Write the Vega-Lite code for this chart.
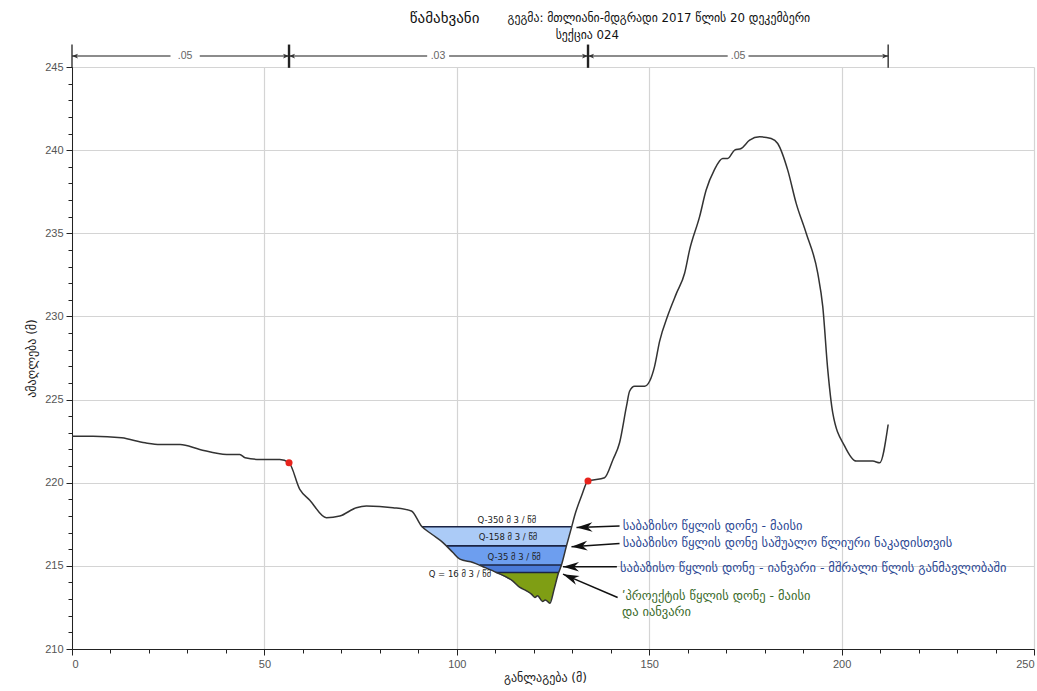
{
  "$schema": "https://vega.github.io/schema/vega-lite/v6.json",
  "width": 962,
  "height": 582,
  "autosize": "none",
  "padding": {"left": 72, "top": 67, "right": 3, "bottom": 42},
  "background": "white",
  "config": {
    "view": {"stroke": null},
    "font": "DejaVu Sans",
    "axis": {
      "labelFont": "Liberation Sans",
      "labelFontSize": 11,
      "labelColor": "#555555",
      "titleFont": "DejaVu Sans",
      "titleFontSize": 12,
      "titleFontWeight": "normal",
      "titleColor": "#222222",
      "gridColor": "#d4d4d4",
      "gridWidth": 1.2,
      "domainColor": "#222222",
      "tickColor": "#222222"
    }
  },
  "datasets": {
    "ground": [
      {"x": 0, "z": 222.8}, {"x": 5.5, "z": 222.8}, {"x": 12.9, "z": 222.7}, {"x": 19.0, "z": 222.4},
      {"x": 22.9, "z": 222.3}, {"x": 28.1, "z": 222.3}, {"x": 33.2, "z": 222.0}, {"x": 40.2, "z": 221.7},
      {"x": 43.6, "z": 221.7}, {"x": 45.0, "z": 221.5}, {"x": 48.8, "z": 221.4}, {"x": 54.0, "z": 221.4},
      {"x": 56.4, "z": 221.2}, {"x": 59.2, "z": 219.6}, {"x": 61.8, "z": 218.95}, {"x": 66.1, "z": 217.9},
      {"x": 69.6, "z": 218.0}, {"x": 73.9, "z": 218.5}, {"x": 76.5, "z": 218.6}, {"x": 83.4, "z": 218.5},
      {"x": 88.2, "z": 218.3}, {"x": 90.8, "z": 217.4}, {"x": 93.5, "z": 216.9}, {"x": 96.4, "z": 216.4},
      {"x": 99.0, "z": 215.8}, {"x": 100.8, "z": 215.4}, {"x": 104.2, "z": 215.2}, {"x": 106.8, "z": 214.95},
      {"x": 110.3, "z": 214.6}, {"x": 114.5, "z": 214.1}, {"x": 116.4, "z": 213.7}, {"x": 118.1, "z": 213.5},
      {"x": 119.4, "z": 213.3}, {"x": 120.3, "z": 213.1}, {"x": 121.0, "z": 213.2}, {"x": 122.3, "z": 212.85},
      {"x": 123.0, "z": 212.95}, {"x": 124.2, "z": 212.75}, {"x": 125.3, "z": 213.6}, {"x": 126.4, "z": 214.55},
      {"x": 127.2, "z": 215.05}, {"x": 128.5, "z": 216.2}, {"x": 129.8, "z": 217.3}, {"x": 130.6, "z": 218.0},
      {"x": 132.4, "z": 219.2}, {"x": 134.1, "z": 220.1}, {"x": 138.4, "z": 220.3}, {"x": 140.6, "z": 221.4},
      {"x": 142.3, "z": 222.4}, {"x": 144.1, "z": 224.6}, {"x": 144.9, "z": 225.5}, {"x": 146.2, "z": 225.8},
      {"x": 148.8, "z": 225.8}, {"x": 150.1, "z": 226.1}, {"x": 151.4, "z": 227.0}, {"x": 152.7, "z": 228.5},
      {"x": 154.9, "z": 230.1}, {"x": 157.1, "z": 231.4}, {"x": 159.2, "z": 232.6}, {"x": 160.5, "z": 234.0},
      {"x": 163.1, "z": 236.0}, {"x": 164.8, "z": 237.6}, {"x": 166.9, "z": 238.8}, {"x": 169.1, "z": 239.5},
      {"x": 170.4, "z": 239.5}, {"x": 172.2, "z": 240.0}, {"x": 173.9, "z": 240.1}, {"x": 176.1, "z": 240.6},
      {"x": 178.7, "z": 240.8}, {"x": 181.7, "z": 240.7}, {"x": 183.4, "z": 240.4}, {"x": 186.0, "z": 238.8},
      {"x": 188.2, "z": 236.8}, {"x": 190.8, "z": 235.0}, {"x": 193.8, "z": 232.6}, {"x": 195.1, "z": 230.6},
      {"x": 196.4, "z": 226.8}, {"x": 197.7, "z": 224.2}, {"x": 200.8, "z": 222.2}, {"x": 203.8, "z": 221.3},
      {"x": 208.1, "z": 221.3}, {"x": 209.9, "z": 221.2}, {"x": 212.1, "z": 223.5}
    ],
    "water": [
      {"lvl": "a", "x": 90.9, "z": 217.35, "top": 217.35}, {"lvl": "a", "x": 93.5, "z": 216.9, "top": 217.35},
      {"lvl": "a", "x": 96.4, "z": 216.4, "top": 217.35}, {"lvl": "a", "x": 99.0, "z": 215.8, "top": 217.35},
      {"lvl": "a", "x": 100.8, "z": 215.4, "top": 217.35}, {"lvl": "a", "x": 104.2, "z": 215.2, "top": 217.35},
      {"lvl": "a", "x": 106.8, "z": 214.95, "top": 217.35}, {"lvl": "a", "x": 110.3, "z": 214.6, "top": 217.35},
      {"lvl": "a", "x": 114.5, "z": 214.1, "top": 217.35}, {"lvl": "a", "x": 116.4, "z": 213.7, "top": 217.35},
      {"lvl": "a", "x": 118.1, "z": 213.5, "top": 217.35}, {"lvl": "a", "x": 119.4, "z": 213.3, "top": 217.35},
      {"lvl": "a", "x": 120.3, "z": 213.1, "top": 217.35}, {"lvl": "a", "x": 121.0, "z": 213.2, "top": 217.35},
      {"lvl": "a", "x": 122.3, "z": 212.85, "top": 217.35}, {"lvl": "a", "x": 123.0, "z": 212.95, "top": 217.35},
      {"lvl": "a", "x": 124.2, "z": 212.75, "top": 217.35}, {"lvl": "a", "x": 125.3, "z": 213.6, "top": 217.35},
      {"lvl": "a", "x": 126.4, "z": 214.55, "top": 217.35}, {"lvl": "a", "x": 127.2, "z": 215.05, "top": 217.35},
      {"lvl": "a", "x": 128.5, "z": 216.2, "top": 217.35}, {"lvl": "a", "x": 129.75, "z": 217.35, "top": 217.35},

      {"lvl": "b", "x": 97.3, "z": 216.2, "top": 216.2}, {"lvl": "b", "x": 99.0, "z": 215.8, "top": 216.2},
      {"lvl": "b", "x": 100.8, "z": 215.4, "top": 216.2}, {"lvl": "b", "x": 104.2, "z": 215.2, "top": 216.2},
      {"lvl": "b", "x": 106.8, "z": 214.95, "top": 216.2}, {"lvl": "b", "x": 110.3, "z": 214.6, "top": 216.2},
      {"lvl": "b", "x": 114.5, "z": 214.1, "top": 216.2}, {"lvl": "b", "x": 116.4, "z": 213.7, "top": 216.2},
      {"lvl": "b", "x": 118.1, "z": 213.5, "top": 216.2}, {"lvl": "b", "x": 119.4, "z": 213.3, "top": 216.2},
      {"lvl": "b", "x": 120.3, "z": 213.1, "top": 216.2}, {"lvl": "b", "x": 121.0, "z": 213.2, "top": 216.2},
      {"lvl": "b", "x": 122.3, "z": 212.85, "top": 216.2}, {"lvl": "b", "x": 123.0, "z": 212.95, "top": 216.2},
      {"lvl": "b", "x": 124.2, "z": 212.75, "top": 216.2}, {"lvl": "b", "x": 125.3, "z": 213.6, "top": 216.2},
      {"lvl": "b", "x": 126.4, "z": 214.55, "top": 216.2}, {"lvl": "b", "x": 127.2, "z": 215.05, "top": 216.2},
      {"lvl": "b", "x": 128.5, "z": 216.2, "top": 216.2},

      {"lvl": "c", "x": 106.0, "z": 215.05, "top": 215.05}, {"lvl": "c", "x": 106.8, "z": 214.95, "top": 215.05},
      {"lvl": "c", "x": 110.3, "z": 214.6, "top": 215.05}, {"lvl": "c", "x": 114.5, "z": 214.1, "top": 215.05},
      {"lvl": "c", "x": 116.4, "z": 213.7, "top": 215.05}, {"lvl": "c", "x": 118.1, "z": 213.5, "top": 215.05},
      {"lvl": "c", "x": 119.4, "z": 213.3, "top": 215.05}, {"lvl": "c", "x": 120.3, "z": 213.1, "top": 215.05},
      {"lvl": "c", "x": 121.0, "z": 213.2, "top": 215.05}, {"lvl": "c", "x": 122.3, "z": 212.85, "top": 215.05},
      {"lvl": "c", "x": 123.0, "z": 212.95, "top": 215.05}, {"lvl": "c", "x": 124.2, "z": 212.75, "top": 215.05},
      {"lvl": "c", "x": 125.3, "z": 213.6, "top": 215.05}, {"lvl": "c", "x": 126.4, "z": 214.55, "top": 215.05},
      {"lvl": "c", "x": 127.2, "z": 215.05, "top": 215.05},

      {"lvl": "d", "x": 110.3, "z": 214.6, "top": 214.6}, {"lvl": "d", "x": 114.5, "z": 214.1, "top": 214.6},
      {"lvl": "d", "x": 116.4, "z": 213.7, "top": 214.6}, {"lvl": "d", "x": 118.1, "z": 213.5, "top": 214.6},
      {"lvl": "d", "x": 119.4, "z": 213.3, "top": 214.6}, {"lvl": "d", "x": 120.3, "z": 213.1, "top": 214.6},
      {"lvl": "d", "x": 121.0, "z": 213.2, "top": 214.6}, {"lvl": "d", "x": 122.3, "z": 212.85, "top": 214.6},
      {"lvl": "d", "x": 123.0, "z": 212.95, "top": 214.6}, {"lvl": "d", "x": 124.2, "z": 212.75, "top": 214.6},
      {"lvl": "d", "x": 125.3, "z": 213.6, "top": 214.6}, {"lvl": "d", "x": 126.45, "z": 214.6, "top": 214.6}
    ],
    "levels": [
      {"x1": 90.9, "x2": 129.75, "z": 217.35},
      {"x1": 97.3, "x2": 128.5, "z": 216.2},
      {"x1": 106.0, "x2": 127.2, "z": 215.05},
      {"x1": 110.3, "x2": 126.45, "z": 214.6}
    ],
    "qlabels": [
      {"x": 113.0, "z": 217.76, "t": "Q-350 მ 3 / წმ"},
      {"x": 113.3, "z": 216.76, "t": "Q-158 მ 3 / წმ"},
      {"x": 114.9, "z": 215.55, "t": "Q-35 მ 3 / წმ"},
      {"x": 100.8, "z": 214.5, "t": "Q = 16 მ 3 / წმ"}
    ],
    "dots": [
      {"x": 56.4, "z": 221.2},
      {"x": 134.1, "z": 220.1}
    ],
    "arrows": [
      {"x": 142.3, "y": 217.4, "x2": 131.1, "y2": 217.3, "ang": -2},
      {"x": 142.3, "y": 216.35, "x2": 129.8, "y2": 216.15, "ang": -4},
      {"x": 141.6, "y": 214.95, "x2": 127.6, "y2": 214.95, "ang": 0},
      {"x": 141.8, "y": 213.1, "x2": 127.6, "y2": 214.5, "ang": 23}
    ],
    "notes": [
      {"x": 142.6, "z": 217.4, "kind": "base", "t": "საბაზისო წყლის დონე - მაისი"},
      {"x": 142.6, "z": 216.4, "kind": "base", "t": "საბაზისო წყლის დონე საშუალო წლიური ნაკადისთვის"},
      {"x": 141.9, "z": 214.85, "kind": "base", "t": "საბაზისო წყლის დონე - იანვარი - მშრალი წლის განმავლობაში"},
      {"x": 142.4, "z": 213.2, "kind": "project", "t": "ʹპროექტის წყლის დონე - მაისი\nდა იანვარი"}
    ],
    "titles": [
      {"x": 87.8, "z": 247.95, "sz": "big", "t": "წამახვანი"},
      {"x": 113.2, "z": 247.95, "sz": "small", "t": "გეგმა: მთლიანი-მდგრადი  2017 წლის 20 დეკემბერი"},
      {"x": 125.7, "z": 246.95, "sz": "small", "t": "სექცია 024"}
    ],
    "topsegs": [
      {"x": 0, "x2": 25.6, "z": 245.66}, {"x": 33.2, "x2": 56.4, "z": 245.66},
      {"x": 56.4, "x2": 92.3, "z": 245.66}, {"x": 98.0, "x2": 134.1, "z": 245.66},
      {"x": 134.1, "x2": 170.4, "z": 245.66}, {"x": 175.8, "x2": 212.1, "z": 245.66}
    ],
    "topticks": [
      {"x": 0, "z1": 244.95, "z2": 246.35, "w": "thin"},
      {"x": 56.4, "z1": 244.95, "z2": 246.35, "w": "thick"},
      {"x": 134.1, "z1": 244.95, "z2": 246.35, "w": "thick"},
      {"x": 212.1, "z1": 244.95, "z2": 246.35, "w": "thin"}
    ],
    "topheads": [
      {"x": 0, "z": 245.66, "ang": 0}, {"x": 56.4, "z": 245.66, "ang": 180},
      {"x": 56.4, "z": 245.66, "ang": 0}, {"x": 134.1, "z": 245.66, "ang": 180},
      {"x": 134.1, "z": 245.66, "ang": 0}, {"x": 212.1, "z": 245.66, "ang": 180}
    ],
    "toplabels": [
      {"x": 29.4, "z": 245.66, "t": ".05"},
      {"x": 95.1, "z": 245.66, "t": ".03"},
      {"x": 173.1, "z": 245.66, "t": ".05"}
    ]
  },
  "resolve": {"axis": {"x": "independent", "y": "independent"}},
  "layer": [
    {
      "layer": [
        {
          "data": {"name": "water"},
          "transform": [{"filter": "datum.lvl === 'a'"}],
          "mark": {"type": "area", "color": "#abcbf7", "opacity": 1},
          "encoding": {
            "x": {"field": "x", "type": "quantitative", "scale": {"domain": [0, 250], "nice": false, "zero": false},
                  "axis": {"values": [0, 50, 100, 150, 200, 250], "title": "განლაგება (მ)", "tickSize": 6, "labelPadding": 3, "titlePadding": 3, "titleX": 473, "grid": true}},
            "y": {"field": "z", "type": "quantitative", "stack": null, "scale": {"domain": [210, 245], "nice": false, "zero": false},
                  "axis": {"values": [210, 215, 220, 225, 230, 235, 240, 245], "title": "ამაღლება (მ)", "tickSize": 6, "labelPadding": 3, "titlePadding": 6, "grid": true}},
            "y2": {"field": "top"}
          }
        },
        {
          "data": {"name": "water"},
          "transform": [{"filter": "datum.lvl === 'b'"}],
          "mark": {"type": "area", "color": "#6d9eef", "opacity": 1},
          "encoding": {
            "x": {"field": "x", "type": "quantitative"},
            "y": {"field": "z", "type": "quantitative", "stack": null},
            "y2": {"field": "top"}
          }
        },
        {
          "data": {"name": "water"},
          "transform": [{"filter": "datum.lvl === 'c'"}],
          "mark": {"type": "area", "color": "#4a7ad8", "opacity": 1},
          "encoding": {
            "x": {"field": "x", "type": "quantitative"},
            "y": {"field": "z", "type": "quantitative", "stack": null},
            "y2": {"field": "top"}
          }
        },
        {
          "data": {"name": "water"},
          "transform": [{"filter": "datum.lvl === 'd'"}],
          "mark": {"type": "area", "color": "#7f9e14", "opacity": 1},
          "encoding": {
            "x": {"field": "x", "type": "quantitative"},
            "y": {"field": "z", "type": "quantitative", "stack": null},
            "y2": {"field": "top"}
          }
        },
        {
          "data": {"name": "levels"},
          "mark": {"type": "rule", "color": "#1b2444", "strokeWidth": 1.6},
          "encoding": {
            "x": {"field": "x1", "type": "quantitative"},
            "x2": {"field": "x2"},
            "y": {"field": "z", "type": "quantitative"}
          }
        },
        {
          "data": {"name": "ground"},
          "mark": {"type": "line", "color": "#333333", "strokeWidth": 1.5, "interpolate": "monotone"},
          "encoding": {
            "x": {"field": "x", "type": "quantitative"},
            "y": {"field": "z", "type": "quantitative"}
          }
        },
        {
          "data": {"name": "dots"},
          "mark": {"type": "point", "filled": true, "color": "#e8231c", "size": 50, "opacity": 1},
          "encoding": {
            "x": {"field": "x", "type": "quantitative"},
            "y": {"field": "z", "type": "quantitative"}
          }
        },
        {
          "data": {"name": "qlabels"},
          "mark": {"type": "text", "font": "DejaVu Sans", "fontSize": 8.5, "color": "#222222", "align": "center", "baseline": "middle"},
          "encoding": {
            "x": {"field": "x", "type": "quantitative"},
            "y": {"field": "z", "type": "quantitative"},
            "text": {"field": "t"}
          }
        },
        {
          "data": {"name": "arrows"},
          "mark": {"type": "rule", "color": "#111111", "strokeWidth": 1.5},
          "encoding": {
            "x": {"field": "x", "type": "quantitative"},
            "y": {"field": "y", "type": "quantitative"},
            "x2": {"field": "x2"},
            "y2": {"field": "y2"}
          }
        },
        {
          "data": {"name": "arrows"},
          "mark": {"type": "point", "shape": "M0,0 L2,-0.6 L1.4,0 L2,0.6 Z", "filled": true, "color": "#111111", "size": 256, "opacity": 1},
          "encoding": {
            "x": {"field": "x2", "type": "quantitative"},
            "y": {"field": "y2", "type": "quantitative"},
            "angle": {"field": "ang", "type": "quantitative", "scale": null}
          }
        },
        {
          "data": {"name": "notes"},
          "mark": {"type": "text", "font": "DejaVu Sans", "fontSize": 12.5, "align": "left", "baseline": "middle", "lineBreak": "\n", "lineHeight": 16, "dx": 2},
          "encoding": {
            "x": {"field": "x", "type": "quantitative"},
            "y": {"field": "z", "type": "quantitative"},
            "text": {"field": "t"},
            "color": {"field": "kind", "type": "nominal", "scale": {"domain": ["base", "project"], "range": ["#2b4793", "#3a6a2a"]}, "legend": null}
          }
        },
        {
          "data": {"name": "titles"},
          "mark": {"type": "text", "font": "DejaVu Sans", "align": "left", "baseline": "middle", "color": "#111111"},
          "encoding": {
            "x": {"field": "x", "type": "quantitative"},
            "y": {"field": "z", "type": "quantitative"},
            "text": {"field": "t"},
            "size": {"field": "sz", "type": "nominal", "scale": {"domain": ["big", "small"], "range": [15, 11.8]}, "legend": null}
          }
        },
        {
          "data": {"name": "topsegs"},
          "mark": {"type": "rule", "color": "#666666", "strokeWidth": 1.5},
          "encoding": {
            "x": {"field": "x", "type": "quantitative"},
            "x2": {"field": "x2"},
            "y": {"field": "z", "type": "quantitative"}
          }
        },
        {
          "data": {"name": "topticks"},
          "mark": {"type": "rule", "color": "#222222"},
          "encoding": {
            "x": {"field": "x", "type": "quantitative"},
            "y": {"field": "z1", "type": "quantitative"},
            "y2": {"field": "z2"},
            "strokeWidth": {"field": "w", "type": "nominal", "scale": {"domain": ["thin", "thick"], "range": [1.3, 2.4]}, "legend": null}
          }
        },
        {
          "data": {"name": "topheads"},
          "mark": {"type": "point", "shape": "M0,0 L2,-0.8 L1.5,0 L2,0.8 Z", "filled": true, "color": "#333333", "size": 36, "opacity": 1},
          "encoding": {
            "x": {"field": "x", "type": "quantitative"},
            "y": {"field": "z", "type": "quantitative"},
            "angle": {"field": "ang", "type": "quantitative", "scale": null}
          }
        },
        {
          "data": {"name": "toplabels"},
          "mark": {"type": "text", "font": "Liberation Sans", "fontSize": 10.5, "color": "#666666", "align": "center", "baseline": "middle"},
          "encoding": {
            "x": {"field": "x", "type": "quantitative"},
            "y": {"field": "z", "type": "quantitative"},
            "text": {"field": "t"}
          }
        }
      ]
    },
    {
      "data": {"name": "dots"},
      "mark": {"type": "point", "opacity": 0},
      "encoding": {
        "x": {"field": "x", "type": "quantitative", "scale": {"domain": [0, 250], "nice": false, "zero": false},
              "axis": {"orient": "bottom", "values": [10, 20, 30, 40, 60, 70, 80, 90, 110, 120, 130, 140, 160, 170, 180, 190, 210, 220, 230, 240], "labels": false, "grid": false, "domain": false, "tickSize": 4, "title": null}},
        "y": {"field": "z", "type": "quantitative", "scale": {"domain": [210, 245], "nice": false, "zero": false},
              "axis": {"orient": "left", "values": [211, 212, 213, 214, 216, 217, 218, 219, 221, 222, 223, 224, 226, 227, 228, 229, 231, 232, 233, 234, 236, 237, 238, 239, 241, 242, 243, 244], "labels": false, "grid": false, "domain": false, "tickSize": 4, "title": null}}
      }
    }
  ]
}
